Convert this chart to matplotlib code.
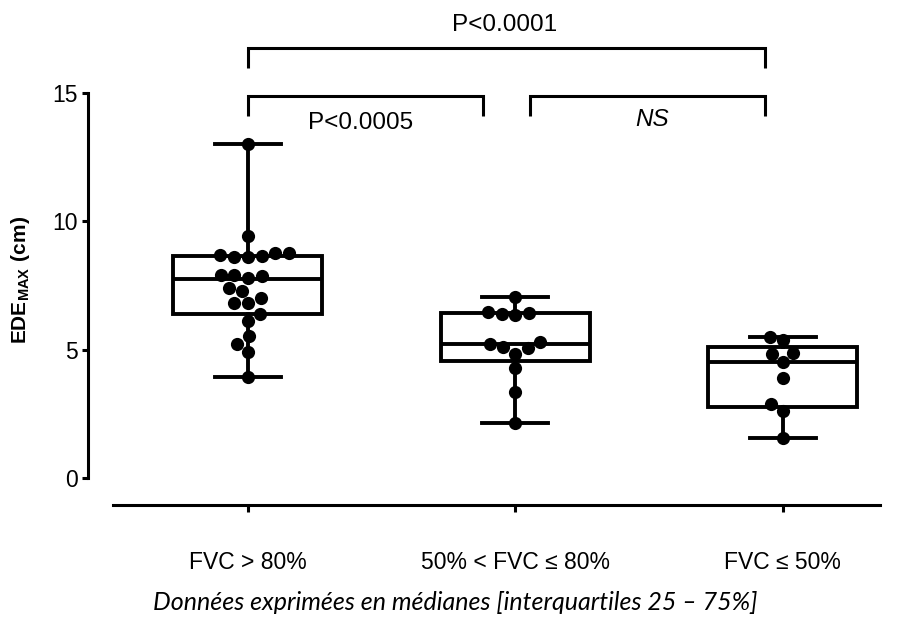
import matplotlib
matplotlib.use('Agg')
import matplotlib.pyplot as plt
import numpy as np
import pandas as pd
import seaborn as sns

# ---------------- data ----------------
categories = ['FVC > 80%', '50% < FVC \u2264 80%', 'FVC \u2264 50%']
fvc_gt80 = [13.0, 9.43, 8.75, 8.65, 8.62, 8.62, 8.70, 8.75, 7.90, 7.87, 7.79, 7.90,
            7.41, 7.30, 6.83, 7.00, 6.83, 6.38, 6.12, 5.53, 5.24, 4.92, 3.92]
fvc_50_80 = [7.04, 6.42, 6.36, 6.40, 6.46, 5.31, 5.05, 5.09, 5.24, 4.83, 4.27, 3.34, 2.13]
fvc_le50 = [5.51, 5.38, 4.88, 4.83, 4.53, 3.91, 2.87, 2.61, 1.57]
q1 = [6.38, 4.57, 2.75]
medians = [7.74, 5.24, 4.53]
q3 = [8.66, 6.42, 5.12]
pvalue_labels = ['P<0.0001', 'P<0.0005', 'NS']
yticks = [0, 5, 10, 15]

groups = [fvc_gt80, fvc_50_80, fvc_le50]

plt.rcParams['font.family'] = ['Liberation Sans', 'DejaVu Sans']
plt.rcParams['mathtext.fontset'] = 'custom'
plt.rcParams['mathtext.rm'] = 'Liberation Sans'
plt.rcParams['mathtext.bf'] = 'Liberation Sans:bold'

W, H = 908, 635
fig = plt.figure(figsize=(W / 100, H / 100), dpi=100)
# pixel geometry
left_px, right_px, top_px, bottom_px = 88, 880, 93, 505
ax = fig.add_axes([left_px / W, 1 - bottom_px / H, (right_px - left_px) / W, (bottom_px - top_px) / H])

XL = (-0.598, 2.363)
YL = (-1.05, 15.0)
ax.set_xlim(*XL)
ax.set_ylim(*YL)

# boxes
stats = []
for i, g in enumerate(groups):
    stats.append(dict(med=medians[i], q1=q1[i], q3=q3[i],
                      whislo=min(g), whishi=max(g), fliers=[]))
lw = 2.8
ax.bxp(stats, positions=[0, 1, 2], widths=0.557, capwidths=0.247,
       showfliers=False, patch_artist=True, manage_ticks=False,
       boxprops=dict(facecolor='white', edgecolor='black', linewidth=lw),
       medianprops=dict(color='black', linewidth=lw),
       whiskerprops=dict(color='black', linewidth=lw),
       capprops=dict(color='black', linewidth=lw), zorder=2)

# points
df = pd.DataFrame({'g': np.concatenate([[i] * len(g) for i, g in enumerate(groups)]),
                   'v': np.concatenate(groups)})
sns.swarmplot(data=df, x='g', y='v', native_scale=True, color='black', size=9.5,
              ax=ax, zorder=3, linewidth=0)

ax.set_xlim(*XL)
ax.set_ylim(*YL)

# axes styling
for s in ['top', 'right']:
    ax.spines[s].set_visible(False)
ax.spines['left'].set_bounds(0, 15)
ax.spines['bottom'].set_bounds(-0.505, XL[1])
ax.spines['left'].set_linewidth(2.2)
ax.spines['bottom'].set_linewidth(2.2)
ax.set_yticks(yticks)
ax.set_yticklabels([str(t) for t in yticks])
ax.set_xticks([0, 1, 2])
ax.set_xticklabels(categories)
ax.tick_params(axis='y', direction='out', length=4.5, width=2.2, labelsize=16.5, pad=3)
ax.tick_params(axis='x', direction='out', length=5, width=2.2, labelsize=16.5, pad=28)
ax.set_xlabel('')
ax.set_ylabel(r'$\mathbf{EDE_{MAX}\ (cm)}$', fontsize=15)
ax.yaxis.set_label_coords(-0.071, (7.7 - YL[0]) / (YL[1] - YL[0]))

# significance brackets
blw = 2.2
def bracket(x0, x1, ytop, ybot):
    ax.plot([x0, x0, x1, x1], [ybot, ytop, ytop, ybot], color='black', lw=blw,
            clip_on=False, solid_joinstyle='miter', solid_capstyle='butt')

bracket(0.0, 1.933, 16.75, 15.97)
bracket(0.0, 0.878, 14.88, 14.10)
bracket(1.054, 1.933, 14.88, 14.10)
ax.text(0.96, 17.65, pvalue_labels[0], ha='center', va='center', fontsize=17.5, clip_on=False)
ax.text(0.42, 13.83, pvalue_labels[1], ha='center', va='center', fontsize=17.5, clip_on=False)
ax.text(1.51, 13.95, pvalue_labels[2], ha='center', va='center', fontsize=17.5,
        style='italic', clip_on=False)

fig.text(455 / W, 1 - 602 / H, 'Donn\u00e9es exprim\u00e9es en m\u00e9dianes [interquartiles 25 \u2013 75%]',
         ha='center', va='center', fontsize=18, style='italic', family=['Lato', 'DejaVu Sans'])

fig.savefig('out.png', dpi=100)
